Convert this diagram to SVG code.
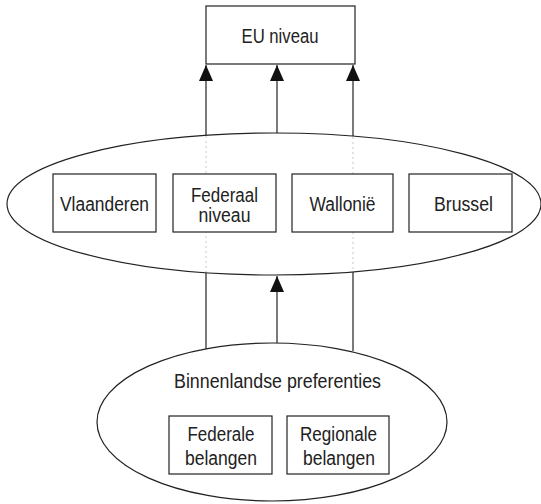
<svg xmlns="http://www.w3.org/2000/svg" width="541" height="504" viewBox="0 0 541 504">
<style>
  .box{fill:#fff;stroke:#222;stroke-width:1.2}
  .ell{fill:none;stroke:#222;stroke-width:1.2}
  .t{font-family:"Liberation Sans",Arial,sans-serif;font-size:20px;fill:#222;text-anchor:middle}
  .ln{stroke:#222;stroke-width:1.2;fill:none}
  .faint{stroke:#bbb;stroke-width:0.8;stroke-dasharray:2 3;fill:none}
</style>
<defs>
  <marker id="ah" markerUnits="userSpaceOnUse" markerWidth="20" markerHeight="20" viewBox="-18 -10 20 20" refX="0" refY="0" orient="auto">
    <path d="M0,0 L-16,-7 L-16,7 Z" fill="#111"/>
  </marker>
</defs>
<rect width="541" height="504" fill="#fff"/>

<g id="connectors">
  <line class="ln" x1="206" y1="135" x2="206" y2="65" marker-end="url(#ah)"/>
  <line class="ln" x1="277" y1="133" x2="277" y2="65" marker-end="url(#ah)"/>
  <line class="ln" x1="353" y1="136" x2="353" y2="65" marker-end="url(#ah)"/>
  <line class="faint" x1="206" y1="136" x2="206" y2="272"/>
  <line class="faint" x1="353" y1="137" x2="353" y2="271"/>
  <line class="ln" x1="206" y1="349" x2="206" y2="273"/>
  <line class="ln" x1="353" y1="351" x2="353" y2="272"/>
  <line class="ln" x1="277" y1="343" x2="277" y2="276" marker-end="url(#ah)"/>
</g>

<g id="eu">
  <rect class="box" x="206" y="6" width="149" height="58"/>
  <text class="t" x="280" y="43" textLength="77" lengthAdjust="spacingAndGlyphs">EU niveau</text>
</g>

<g id="belgie">
  <ellipse class="ell" cx="274" cy="204" rx="267" ry="71"/>
</g>
<g id="vlaanderen">
  <rect class="box" x="53" y="174" width="103" height="58"/>
  <text class="t" x="104.5" y="211" textLength="89" lengthAdjust="spacingAndGlyphs">Vlaanderen</text>
</g>
<g id="federaal">
  <rect class="box" x="173" y="174" width="103" height="58"/>
  <text class="t" x="224.5" y="202" textLength="67" lengthAdjust="spacingAndGlyphs">Federaal</text>
  <text class="t" x="224.5" y="222" textLength="52" lengthAdjust="spacingAndGlyphs">niveau</text>
</g>
<g id="wallonie">
  <rect class="box" x="292" y="174" width="101" height="58"/>
  <text class="t" x="342.5" y="211" textLength="66" lengthAdjust="spacingAndGlyphs">Wallonië</text>
</g>
<g id="brussel">
  <rect class="box" x="409" y="174" width="103" height="58"/>
  <text class="t" x="463.5" y="211" textLength="59" lengthAdjust="spacingAndGlyphs">Brussel</text>
</g>

<g id="binnenlands">
  <ellipse class="ell" cx="272" cy="422" rx="175" ry="79"/>
  <text class="t" x="277.5" y="388" textLength="207" lengthAdjust="spacingAndGlyphs">Binnenlandse preferenties</text>
</g>
<g id="federale">
  <rect class="box" x="169" y="416" width="103" height="58"/>
  <text class="t" x="221" y="441" textLength="67" lengthAdjust="spacingAndGlyphs">Federale</text>
  <text class="t" x="221" y="465" textLength="72" lengthAdjust="spacingAndGlyphs">belangen</text>
</g>
<g id="regionale">
  <rect class="box" x="287" y="416" width="102" height="58"/>
  <text class="t" x="338.5" y="441" textLength="77" lengthAdjust="spacingAndGlyphs">Regionale</text>
  <text class="t" x="339" y="465" textLength="72" lengthAdjust="spacingAndGlyphs">belangen</text>
</g>
</svg>
